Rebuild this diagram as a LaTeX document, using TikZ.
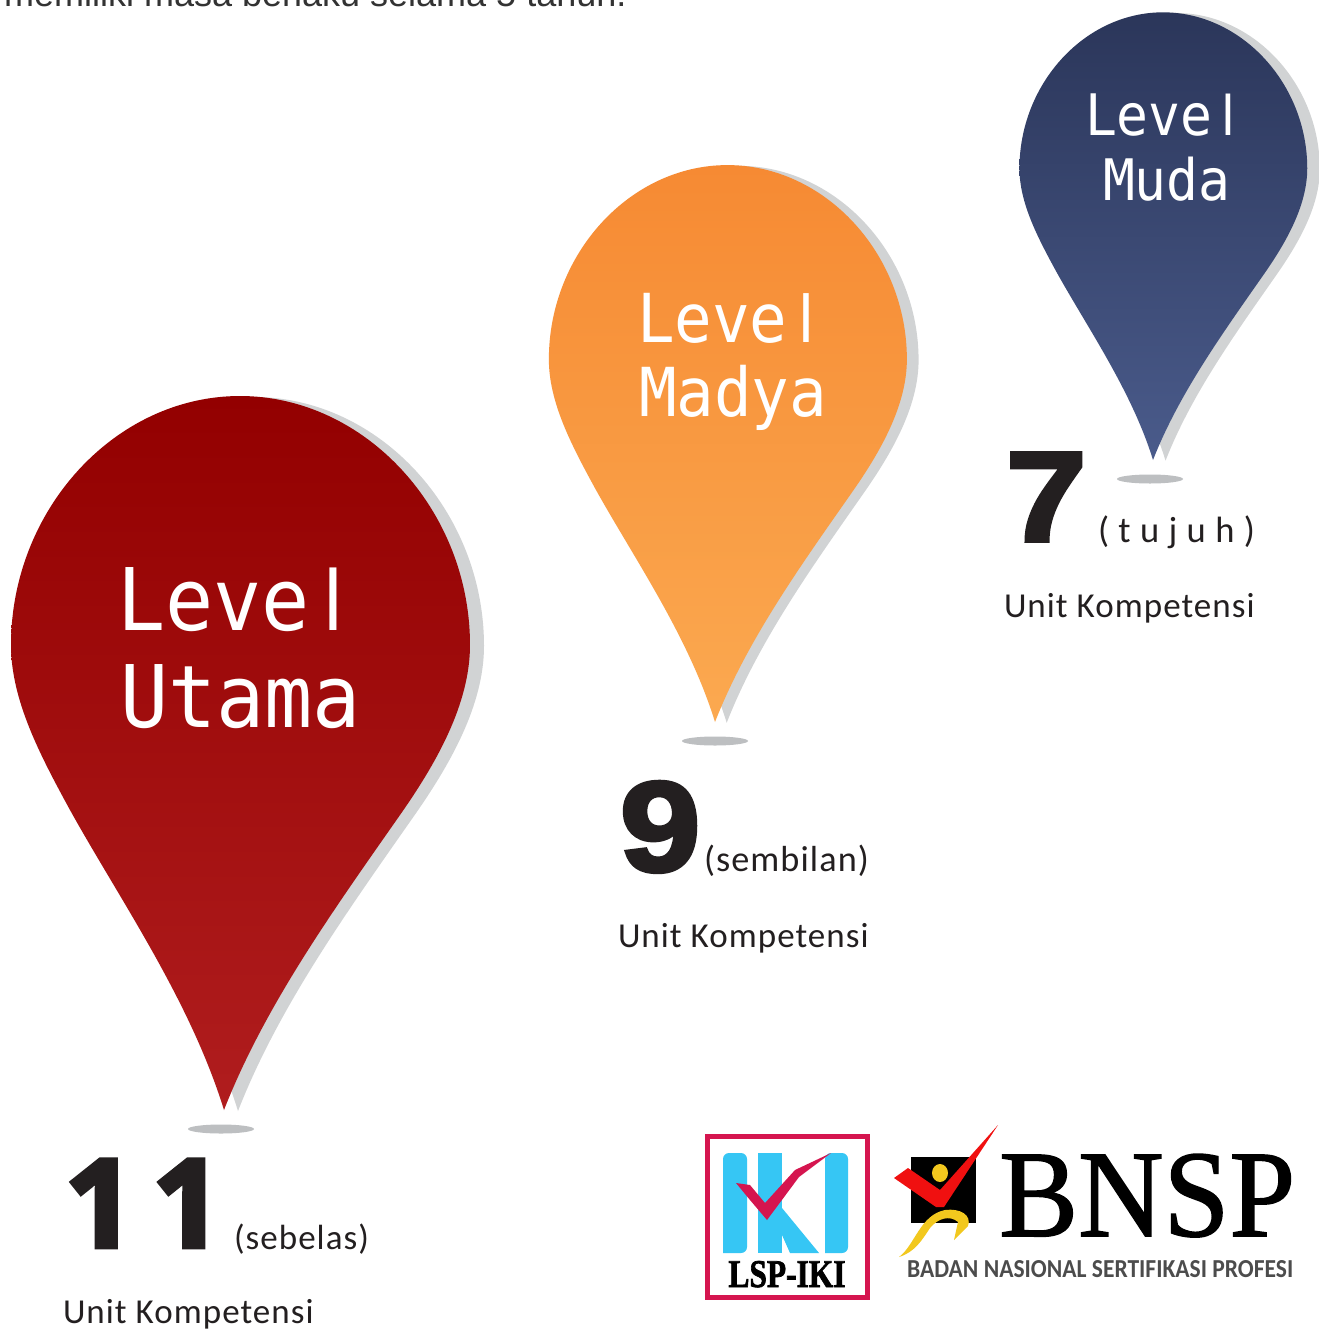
\documentclass[tikz,border=0pt]{standalone}
\usepackage{fontspec}
\setmainfont{Liberation Sans}
\newfontfamily\monof{DejaVu Sans Mono}
\newfontfamily\carl[LetterSpace=3]{Carlito}
\font\bnspf="Liberation Serif:embolden=1.2" at 100pt
\font\blkA="Liberation Sans/B:embolden=3" at 128pt
\font\blkB="Open Sans/B:embolden=4" at 122pt
\font\slab="Liberation Serif/B:embolden=2" at 36pt
\font\gbold="Carlito/B" at 24pt
\definecolor{pinshadow}{HTML}{D1D3D4}
\definecolor{floor}{HTML}{BDBFC1}
\definecolor{numblack}{HTML}{231F20}
\definecolor{sky}{HTML}{36C6F4}
\definecolor{crim}{HTML}{D5154F}
\definecolor{chk}{HTML}{F01010}
\definecolor{yel}{HTML}{F2C81E}
\definecolor{redA}{HTML}{930000}
\definecolor{redB}{HTML}{B01D1E}
\definecolor{orA}{HTML}{F68A33}
\definecolor{orB}{HTML}{FBA950}
\definecolor{blA}{HTML}{2B365A}
\definecolor{blB}{HTML}{4A5B8B}
\newcommand{\pinpath}{(224,1110) .. controls (190,1000) and (120,900) .. (70,810) .. controls (40,755) and (11,700) .. (11,645) .. controls (11,510) and (115,396) .. (240,396) .. controls (365,396) and (470,510) .. (470,645) .. controls (470,705) and (435,765) .. (400,815) .. controls (335,908) and (265,1005) .. (224,1110) -- cycle}
\newcommand{\drawpin}[6]{%
 \begin{scope}[shift={(#1,#2)},scale=#3,shift={(-224,-1110)}]
  \fill[pinshadow,shift={(#6,1)}] \pinpath;
  \shade[top color=#4,bottom color=#5,shading angle=0] \pinpath;
 \end{scope}}
\newcommand{\lvl}{Leve\makebox[0.602em]{\fontspec{Liberation Sans}l}}
\newcommand{\tall}[1]{\scalebox{1}[1.08]{#1}}
\newcommand{\wideb}[1]{\scalebox{1.13}[1]{#1}}
\tikzset{
 x=1pt,y=-1pt,
 txt/.style={anchor=base west,inner sep=0,outer sep=0,text=white},
 note/.style={anchor=base west,inner sep=0,outer sep=0,text=numblack,font=\carl\fontsize{35}{35}\selectfont},
 num/.style={anchor=base west,inner sep=0,outer sep=0,text=numblack,font=\blkA},
 floorspot/.style={fill=floor,draw=none}
}
\begin{document}
\begin{tikzpicture}
\useasboundingbox (0,0) rectangle (1319,1338);
\clip (0,0) rectangle (1319,1338);
\fill[white] (0,0) rectangle (1319,1338);
\node[anchor=base west,inner sep=0,text=black!80] (top) at (4,7) {\fontsize{36}{36}\selectfont memiliki masa berlaku selama 5 tahun.};
% pins
\drawpin{224}{1110}{1}{redA}{redB}{14}
\drawpin{715}{722}{0.78}{orA}{orB}{15}
\drawpin{1153}{460}{0.627}{blA}{blB}{20}
\fill[floorspot] (221,1129) ellipse [x radius=33,y radius=4.5];
\fill[floorspot] (715,741) ellipse [x radius=33,y radius=4.5];
\fill[floorspot] (1150,479) ellipse [x radius=33,y radius=4.5];
% pin labels
\node[txt,font=\monof\fontsize{80}{80}\selectfont] (u1) at (117,630) {\tall{\lvl}};
\node[txt,font=\monof\fontsize{80}{80}\selectfont] (u2) at (120,727) {\tall{Utama}};
\node[txt,font=\monof\fontsize{62.5}{62.5}\selectfont] (m1) at (637,342) {\tall{\lvl}};
\node[txt,font=\monof\fontsize{62.5}{62.5}\selectfont] (m2) at (639,416) {\tall{Madya}};
\node[txt,font=\monof\fontsize{53}{53}\selectfont] (d1) at (1085,135) {\tall{\lvl}};
\node[txt,font=\monof\fontsize{53}{53}\selectfont] (d2) at (1103,200) {\tall{Muda}};
% numbers
\node[num,font=\blkB] (n11) at (65,1247) {1\hspace{18pt}1};
\node[num] (n9) at (620,871) {\wideb{9}};
\node[num] (n7) at (1006,541) {\wideb{7}};
\node[note] (w11) at (234,1249) {(sebelas)};
\node[note] (w9) at (704,871) {\resizebox{165pt}{!}{(sembilan)}};
\node[note] (w7) at (1098,542) {\resizebox{157pt}{!}{( t u j u h )}};
\node[note] (k11) at (63,1323) {Unit Kompetensi};
\node[note] (k9) at (618,947) {Unit Kompetensi};
\node[note] (k7) at (1004,617) {Unit Kompetensi};
% LSP-IKI logo
\draw[crim,line width=5pt,fill=white] (707.5,1136.5) rectangle (867.5,1297.5);
\fill[sky,rounded corners=6pt] (723,1253) -- (723,1153) -- (747,1153) -- (747,1253) [sharp corners] -- cycle;
\fill[sky] (758,1153) rectangle (782,1253);
\fill[sky] (782,1208) -- (819,1253) -- (790,1253) -- (782,1235) -- cycle;
\fill[sky,rounded corners=6pt] (825,1253) -- (825,1153) -- (848,1153) -- (848,1253) [sharp corners] -- cycle;
\fill[crim] (736,1183) -- (750,1185) -- (765,1203) -- (795,1170) -- (831,1153) -- (799,1177) -- (767,1220) -- (750,1200) -- cycle;
\node[inner sep=0,anchor=base] (lsp) at (787,1287) {\resizebox{117pt}{26pt}{\slab LSP-IKI}};
% BNSP logo
\fill[black] (911,1157) rectangle (976,1223);
\fill[yel] (940,1173) ellipse [x radius=8,y radius=9];
\fill[yel] (899,1257) .. controls (915,1245) and (920,1215) .. (945,1210) .. controls (960,1208) and (972,1215) .. (968,1226) -- (954,1240) -- (958,1222) .. controls (950,1215) and (938,1218) .. (930,1228) .. controls (922,1240) and (915,1252) .. (899,1257) -- cycle;
\fill[chk] (894,1178) -- (908,1168) -- (940,1190) -- (998,1125) -- (944,1207) -- (936,1207) -- cycle;
\node[inner sep=0,anchor=base west] (bnsp) at (999,1236) {\resizebox{296pt}{82pt}{\bnspf BNSP}};
\node[inner sep=0,anchor=base west,text=black!70] (badan) at (907,1277) {\resizebox{386pt}{17pt}{\gbold BADAN NASIONAL SERTIFIKASI PROFESI}};
\end{tikzpicture}
\end{document}
